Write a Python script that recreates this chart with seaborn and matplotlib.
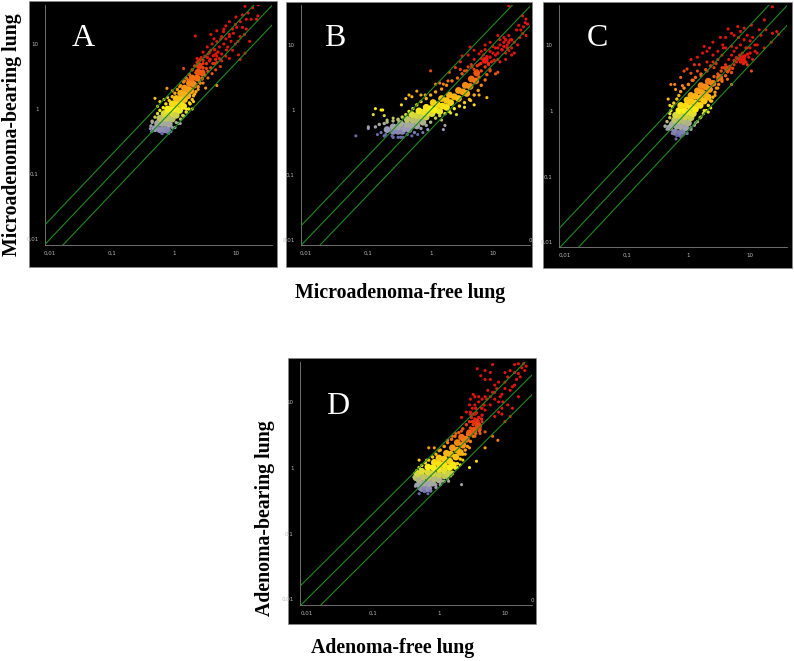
import pandas as pd
import seaborn as sns
import matplotlib.pyplot as plt
from matplotlib.colors import LinearSegmentedColormap, LogNorm
from matplotlib.patches import Rectangle
from matplotlib.ticker import FixedLocator, NullFormatter

W, H = 794, 661

# dense middle of each cloud
a_core = [(0.5,0.5),(0.6,0.48),(0.7,0.48),(0.8,0.47),(0.55,0.6),(0.65,0.6),(0.75,0.6),(0.85,0.58),(0.6,0.72),(0.7,0.72),
          (0.8,0.72),(0.95,0.7),(0.7,0.85),(0.8,0.88),(0.95,0.85),(1.1,0.8),(0.8,1.0),(0.95,1.02),(1.1,1.0),(1.25,0.95),
          (0.95,1.2),(1.1,1.2),(1.3,1.2),(1.45,1.1),(1.1,1.45),(1.3,1.45),(1.5,1.4),(1.3,1.75),(1.5,1.7),(1.7,1.6),
          (1.5,2.1),(1.75,2.0),(1.9,1.9),(1.8,2.5),(2.1,2.4),(2.0,3.0),(2.4,3.0),(2.5,3.7),(2.9,3.6),(2.6,4.6)]
b_core = [(0.2,0.5),(0.25,0.47),(0.3,0.47),(0.35,0.47),(0.25,0.55),(0.3,0.55),(0.38,0.52),(0.45,0.5),(0.33,0.62),(0.42,0.6),
          (0.5,0.58),(0.6,0.57),(0.42,0.72),(0.52,0.7),(0.62,0.68),(0.75,0.65),(0.5,0.85),(0.6,0.82),(0.72,0.8),(0.85,0.78),
          (0.65,0.97),(0.78,0.93),(0.92,0.9),(1.05,0.88),(0.85,1.1),(1.0,1.05),(1.2,1.0),(1.4,0.95),(1.1,1.3),(1.3,1.2),
          (1.55,1.15),(1.8,1.1),(1.5,1.5),(1.8,1.4),(2.1,1.3),(2.0,1.7),(2.4,1.6),(2.8,1.5),(2.8,2.0),(3.3,1.9),
          (3.8,1.8),(3.6,2.4),(4.3,2.3),(4.5,3.0),(5.3,2.8),(5.5,3.7),(7.5,5.8)]
c_core = [(0.5,0.55),(0.6,0.47),(0.7,0.45),(0.8,0.46),(0.55,0.62),(0.65,0.58),(0.75,0.57),(0.9,0.55),(0.6,0.72),(0.7,0.7),
          (0.85,0.68),(1.0,0.65),(0.62,0.85),(0.75,0.83),(0.9,0.8),(1.1,0.78),(0.7,1.0),(0.85,1.0),(1.0,0.95),(1.2,0.9),
          (0.75,1.2),(0.92,1.2),(1.1,1.12),(1.3,1.05),(0.95,1.45),(1.1,1.4),(1.3,1.3),(1.55,1.2),(1.1,1.7),(1.3,1.65),
          (1.55,1.55),(1.8,1.4),(1.4,2.0),(1.65,1.9),(1.9,1.75),(2.1,1.6),(1.6,2.4),(1.9,2.3),(2.2,2.1),(2.1,2.8),
          (2.5,2.6),(3.2,3.2),(4.3,4.3),(7.5,6.2)]
d_core = [(0.45,0.7),(0.5,0.55),(0.55,0.48),(0.62,0.47),(0.7,0.48),(0.5,0.65),(0.6,0.58),(0.7,0.57),(0.8,0.58),(0.48,0.8),
          (0.58,0.72),(0.7,0.7),(0.85,0.68),(1.0,0.65),(0.55,0.88),(0.68,0.85),(0.82,0.82),(1.0,0.78),(1.2,0.75),(0.68,1.02),
          (0.82,1.0),(1.0,0.95),(1.2,0.9),(1.4,0.8),(0.85,1.2),(1.0,1.15),(1.2,1.1),(1.45,1.0),(1.0,1.4),(1.2,1.35),
          (1.45,1.25),(1.65,1.1),(1.3,1.65),(1.5,1.6),(1.8,1.45),(1.6,2.0),(1.9,1.85),(2.1,1.7),(1.9,2.4),(2.3,2.2),
          (2.2,2.9),(2.6,2.7),(2.9,3.4),(3.4,3.7),(3.7,5.0),(4.0,4.3)]

# rim of each cloud and the thinning part above it
a_rim = [(0.44,0.45),(0.43,0.55),(0.45,0.65),(0.5,0.75),(0.55,0.85),(0.6,0.95),(0.68,1.05),(0.75,1.2),(0.85,1.35),(0.95,1.55),
         (1.05,1.75),(1.15,2),(1.3,2.3),(1.45,2.6),(1.6,3),(1.8,3.4),(2,4),(2.2,4.6),(2.4,5.2),(0.65,0.42),
         (0.9,0.45),(1.05,0.52),(1.2,0.6),(1.3,0.7),(1.45,0.78),(1.6,0.9),(1.75,1),(1.85,1.2),(2,1.4),(2.1,1.6),
         (2.3,1.85),(2.5,2.2),(2.7,2.5),(2.9,2.9),(3.2,3.3),(3.6,3.8),(4,4.3),(4.6,5),(2.6,4.5),(3,4.3),
         (3.4,5),(3.9,5.8),(3,5.6),(3.5,6.2),(2.7,5.8),(4.4,6.6),(4.8,5.8),(5.2,7.5),(4.6,8.2),(3.8,7.4),
         (2.3,3.6),(2.9,3),(2.6,2.7),(2.2,2.2)]
b_rim = [(0.13,0.55),(0.15,0.6),(0.18,0.62),(0.2,0.65),(0.25,0.68),(0.3,0.72),(0.35,0.78),(0.4,0.85),(0.45,0.95),(0.52,1.05),
         (0.6,1.2),(0.7,1.35),(0.85,1.5),(1,1.7),(1.2,1.9),(1.5,2.1),(1.8,2.4),(2.2,2.8),(2.7,3.1),(3.2,3.6),
         (3.8,4),(4.6,4.6),(0.18,0.4),(0.25,0.38),(0.33,0.38),(0.42,0.42),(0.55,0.45),(0.7,0.52),(0.85,0.58),(1,0.65),
         (1.2,0.75),(1.4,0.82),(1.7,0.88),(2,0.95),(2.4,1.05),(2.9,1.15),(3.5,1.3),(4.2,1.45),(5,1.7),(5.8,2),
         (6.5,2.4),(7.5,2.9),(8,3.5),(9,4),(6,3.2),(6.5,4),(7.5,4.6),(8.5,5),(5.6,4.8),(6.4,5.2),
         (7,6),(8,6.6),(9,6.5),(9.5,5.5),(10.5,5.8),(12,7.5),(14,8.5),(15,9.5),(17,9),(18,11),
         (16,12),(20,12)]
c_rim = [(0.42,0.58),(0.45,0.68),(0.5,0.78),(0.5,0.9),(0.52,1),(0.55,1.15),(0.58,1.3),(0.65,1.5),(0.7,1.7),(0.75,1.95),
         (0.85,2.2),(1,2.5),(1.15,2.9),(1.3,3.2),(1.6,3.6),(1.9,4.2),(2.3,4.8),(2.8,5.2),(0.55,0.45),(0.65,0.42),
         (0.8,0.42),(0.95,0.45),(1.1,0.52),(1.25,0.6),(1.4,0.68),(1.55,0.78),(1.75,0.9),(1.95,1),(2.1,1.2),(2.3,1.4),
         (2.5,1.6),(2.7,1.9),(2.85,2.2),(3.1,2.5),(3.5,2.8),(4,3.4),(5,3.8),(2.6,3.3),(3,3.6),(3.4,4),
         (3.8,4.5),(4.3,3.9),(4.7,4.7),(5.2,4.4),(5.5,5.8),(6,6.4),(6.8,7),(7,5.5),(7.8,5.2),(8.2,6.8),
         (9,7.2),(10,7.5),(8.5,5.5),(3,2.9),(2.3,2.6)]
d_rim = [(0.42,0.72),(0.43,0.82),(0.46,0.9),(0.5,1),(0.55,1.08),(0.62,1.18),(0.7,1.3),(0.8,1.45),(0.9,1.6),(1.05,1.85),
         (1.2,2.1),(1.35,2.4),(1.55,2.7),(1.75,3),(2,3.4),(2.3,3.9),(2.6,4.5),(2.9,5),(3.1,5.8),(0.45,0.55),
         (0.5,0.48),(0.6,0.44),(0.75,0.44),(0.9,0.5),(1.05,0.55),(1.2,0.62),(1.35,0.68),(1.5,0.75),(1.6,0.85),(1.75,0.98),
         (1.9,1.15),(2.1,1.35),(2.3,1.6),(2.5,1.85),(2.7,2.1),(3,2.5),(3.3,3),(3.6,3.3),(4.2,3.8),(3,4),
         (3.3,4.5),(3.7,4.2),(4.1,3.6),(3.2,5),(3.5,5.5),(4,5.8),(3.7,6.8),(3.3,6.5),(4.4,5.5),(4.5,6.3),
         (3,6.5),(3.6,8),(4.8,9),(2.7,3.2),(2.3,2.6)]

# single dots around the clouds
a_dots = [(2.24,13.3),(14.3,38),(23.5,40),(10.2,26),(22,24),(5,16),(6.4,15.5),(9.3,14.6),(11.9,13),(5,10.9),
          (7.2,8.1),(11.2,6.8),(11.9,5.8),(14.3,7.2),(5.7,4.5),(5,2.3),(2.4,6),(1.45,4.2),(0.5,1.46),(0.78,2.08),
          (2,1),(1.28,0.6),(0.83,0.42),(19,36),(16,30),(13,28),(8,22),(7,19),(10,20),(12,22),
          (6,13),(8,14),(9,17),(4.5,12),(5.5,9),(6.5,10),(7.5,9),(4,8),(4.8,7),(3.6,7),
          (3.2,6.5),(3,5),(3.8,5.5),(4.3,5),(5,5.2),(5.5,6),(6,7),(2.5,5.5),(2.8,6.2),(3.4,4.2),
          (4.2,3.5),(4.8,4),(3.6,3),(3,2.5),(3.3,2.1),(2.5,2),(2.2,1.7),(2.1,1.3),(1.8,1.25),(1.6,1),
          (0.55,1.1),(0.6,1.3),(0.7,1.4),(0.8,1.5),(0.95,1.9),(0.45,0.62),(0.42,0.5),(0.95,0.52),(1.1,0.62),(1.4,0.8),
          (23,27),(15,17),(17,11),(18,24),(8,6),(1.7,2.8),(1.5,2.7),(1.25,2.2),(3.5,9),(3,7.5),
          (4.2,10),(5.8,12),(7,12),(8.5,11),(10,10),(9,8),(7,6.5),(5,6.5),(6,5.5),(8,13),
          (10.5,18),(13,18),(14,14),(11,11),(15,24),(6.5,17),(4,14)]
b_dots = [(0.063,0.4),(0.1,0.52),(0.1,0.55),(0.13,1.05),(0.16,1.0),(0.12,0.85),(0.18,0.82),(0.17,1.0),(0.2,0.7),(0.14,0.42),
          (0.16,0.45),(0.19,0.42),(0.24,0.4),(0.3,0.38),(0.36,0.38),(0.25,0.75),(0.3,0.7),(0.34,1.2),(0.4,1.5),(0.45,1.7),
          (0.5,1.6),(0.6,1.95),(0.7,1.7),(0.82,1.7),(1,4),(1.2,2.5),(1.4,2.6),(1.6,2.5),(1.9,2.8),(0.5,0.4),
          (0.62,0.42),(0.75,0.45),(0.9,0.5),(1.5,0.7),(1.7,0.58),(1.6,0.5),(2.1,0.9),(2.6,0.85),(3.5,1.1),(5,1.2),
          (4.4,1.4),(6,1.7),(8,1.55),(2.5,4.5),(3,4.2),(3.5,4),(4,4.6),(4.5,5),(5,4.2),(5.6,4),
          (6,5),(6.5,6.2),(7,7),(8,6),(8.5,5.2),(9,4.2),(11,3.6),(12,3.8),(3.2,6.8),(4.3,9.3),
          (5,8.3),(6,7.3),(11,7),(12,9),(14,8.4),(16,7.5),(18,8.2),(20,7),(15,11),(17,10),
          (19,12),(13,12),(12,14),(20,9),(24,17),(27,13),(30,15),(33,22),(30,28),(34,25),
          (36,21),(18,40),(26,20),(34,14),(9,11),(22,7.5),(7.5,10),(10,9.5),(2,3.8),(3,5.5),
          (4,7),(5,6),(6.5,8),(7.5,8.5),(9,8),(10,7.5),(11,9),(13,10),(15,13),(12,6),
          (13,5.5),(16,6),(18,14),(22,11),(25,10),(28,17),(31,19)]
c_dots = [(23,38),(17,24),(10.5,20),(8,18),(6.3,19),(4.4,17.5),(5,15),(5.5,14),(6.5,13),(8,12),
          (10,11.5),(14,17),(18,17),(23,15),(29,14.5),(27,16),(22,11),(17,9),(15,14),(13,10),
          (3.3,13),(3.6,10),(3.7,9),(2.2,9),(2,8),(1.7,7.5),(1.4,6.5),(1.1,6),(1.25,5),(0.85,4),
          (0.95,4.3),(1.1,3.7),(1.4,4),(0.75,3.2),(0.6,2.5),(0.52,2.5),(0.62,2.1),(0.8,2.4),(1,2.5),(1.2,2.9),
          (1.6,3.4),(2,4),(2.6,4.5),(2.5,5.5),(3,6),(3.5,4.5),(4,5),(4.5,6),(5,7),(5.5,5),
          (6,5.5),(6.5,6),(7,6.5),(8,5.8),(9,5),(10.5,4),(9.5,6.5),(7.5,7.5),(4.3,3),(5,2.5),
          (3.5,3),(3,2.2),(2.7,1.7),(2.4,1.4),(2.3,1.1),(2.1,0.95),(0.47,1.5),(0.5,1.2),(0.42,0.58),(0.45,0.52),
          (0.63,0.37),(0.75,0.4),(1.1,0.55),(1.3,0.65),(1.6,0.8),(1.8,1),(12,8),(11,13),(9,9),(6,9),
          (2.5,7),(3,8),(3.5,7),(4,9),(5,9.5),(5.5,8),(7,10),(8.5,9),(10,9),(12,10),
          (13,7.5),(11,6),(1.5,5),(2,5.5),(2.5,11),(4,13),(7,16),(9,14),(1.8,9.5)]
d_dots = [(14,37),(16,38),(6.5,37),(5,30),(3.8,32),(4.3,25),(5,22),(6,22),(8,20),(10,28),
          (12,30),(14,28),(16,27),(18,33),(20,30),(19,38),(21,35),(10,16),(12,15),(14,18),
          (3,11),(2.9,9),(3.5,12),(4,12),(4.5,11),(5.3,11),(6,12),(7,11),(8.5,12),(9.3,10),
          (11,9),(13,8),(7,6),(8,7),(9,6.5),(10,5),(12,6),(2.6,7),(3.2,8),(3.5,6.5),
          (2.2,5.8),(5,7.5),(4.5,5),(5,3.5),(6.5,3),(7.8,2.6),(5,2),(3.7,1.25),(2.9,1),(2.2,0.55),
          (3.5,3),(4.2,3.3),(2.9,2),(2.5,1.6),(2.3,1.3),(2.1,1.1),(0.7,2),(0.5,1.3),(0.65,1.3),(0.85,2),
          (1,1.8),(1.2,2.1),(1.35,2.6),(1.6,3),(1.8,3.3),(2.2,3.6),(0.44,0.52),(0.5,0.4),(0.6,0.43),(0.68,0.4),
          (0.9,0.55),(1.1,0.62),(1.4,0.62),(1.6,0.8),(1.9,1),(4.4,8),(5.5,15),(7,14),(3,7),(3.5,9),
          (4,10),(4.5,8),(5,12),(6,9),(6.5,14),(7.5,16),(8,10),(9,13),(10,20),(11,24),
          (13,17),(15,22),(16,12),(17,24),(9,8),(7,18),(6,28),(3.3,13)]

x_ticks = [0.01, 0.1, 1, 10]
tick_labels = ["0,01", "0,1", "1", "10"]
minor_ticks = [m * 10.0 ** e for e in range(-3, 2) for m in range(2, 10)]
bands = [2, 1, 0.5]

panels = [
    {"name": "A", "core": a_core, "rim": a_rim, "dots": a_dots, "rect": (29, 1, 277, 267), "inner": (45, 5, 272, 245),
     "xlim": (0.0083, 39.1), "ylim": (0.0081, 39.8), "letter": (83, 38), "corner": None},
    {"name": "B", "core": b_core, "rim": b_rim, "dots": b_dots, "rect": (286, 2, 532, 267), "inner": (301, 5, 530, 245),
     "xlim": (0.0083, 39.4), "ylim": (0.0084, 41.2), "letter": (335, 38), "corner": (530, 241)},
    {"name": "C", "core": c_core, "rim": c_rim, "dots": c_dots, "rect": (543, 2, 792, 268), "inner": (559, 5, 787, 247),
     "xlim": (0.008, 39.6), "ylim": (0.0084, 40.5), "letter": (597, 38), "corner": None},
    {"name": "D", "core": d_core, "rim": d_rim, "dots": d_dots, "rect": (288, 358, 536, 624), "inner": (300, 362, 532, 605),
     "xlim": (0.00783, 25.7), "ylim": (0.0081, 40.5), "letter": (338, 407), "corner": (532, 600)},
]

# colour follows the y value: blue-grey at the floor, yellow near 1, red from about 6
cmap = LinearSegmentedColormap.from_list("level", [
    (0.00, "#6a6aa8"), (0.06, "#9a9ab8"), (0.13, "#a8ae98"), (0.20, "#c4cc50"), (0.30, "#fbf014"),
    (0.43, "#fbbf14"), (0.60, "#f58414"), (0.77, "#eb4a10"), (0.92, "#e1140f"), (1.00, "#e1140f")])
norm = LogNorm(0.42, 8)


def pixel_axes(fig, box):
    left, top, right, bottom = box
    return fig.add_axes([left / W, 1 - bottom / H, (right - left) / W, (bottom - top) / H])


def draw_cloud(ax, points, size):
    df = pd.DataFrame(points, columns=["x", "y"])
    sns.scatterplot(data=df, x="x", y="y", hue="y", palette=cmap, hue_norm=norm, s=size,
                    linewidth=0, legend=False, ax=ax, zorder=3)


def draw_panel(fig, panel):
    fig.add_artist(Rectangle((panel["rect"][0] / W, 1 - panel["rect"][3] / H),
                             (panel["rect"][2] - panel["rect"][0]) / W,
                             (panel["rect"][3] - panel["rect"][1]) / H,
                             transform=fig.transFigure, facecolor="black", edgecolor="#888888", linewidth=0.5,
                             zorder=-1))
    ax = pixel_axes(fig, panel["inner"])
    ax.set_facecolor("black")
    ax.set_xscale("log")
    ax.set_yscale("log")

    for k in bands:
        ax.plot([1e-3, 100], [k * 1e-3, k * 100], color="#1f8a1f", linewidth=0.8, zorder=4)

    draw_cloud(ax, panel["core"], 24)
    draw_cloud(ax, panel["rim"], 6)
    draw_cloud(ax, panel["dots"], 5)

    ax.set_xlim(panel["xlim"])
    ax.set_ylim(panel["ylim"])
    ax.set_xlabel("")
    ax.set_ylabel("")
    for axis in [ax.xaxis, ax.yaxis]:
        axis.set_major_locator(FixedLocator(x_ticks))
        axis.set_minor_locator(FixedLocator(minor_ticks))
        axis.set_minor_formatter(NullFormatter())
    ax.set_xticklabels(tick_labels)
    ax.set_yticklabels(tick_labels)
    ax.tick_params(which="major", colors="#bbbbbb", labelsize=4, length=3, width=0.5, pad=1.5)
    ax.tick_params(which="minor", colors="#999999", length=1.5, width=0.4)
    sns.despine(ax=ax)
    for side in ["left", "bottom"]:
        ax.spines[side].set_color("#999999")
        ax.spines[side].set_linewidth(0.5)

    fig.text(panel["letter"][0] / W, 1 - panel["letter"][1] / H, panel["name"], color="white", fontsize=23,
             family="Liberation Serif", ha="center", va="center")
    if panel["corner"]:
        fig.text(panel["corner"][0] / W, 1 - panel["corner"][1] / H, "0", color="#bbbbbb", fontsize=4,
                 ha="center", va="center")


sns.set_style("white")
fig = plt.figure(figsize=(W / 100, H / 100), dpi=100, facecolor="white")

for panel in panels:
    draw_panel(fig, panel)

label_style = dict(family="Liberation Serif", fontweight="bold", fontsize=14.3, color="black", ha="center", va="center")
fig.text(12 / W, 1 - 135 / H, "Microadenoma-bearing lung", rotation=90, **label_style)
fig.text(400 / W, 1 - 293 / H, "Microadenoma-free lung", **label_style)
fig.text(265 / W, 1 - 518 / H, "Adenoma-bearing lung", rotation=90, **label_style)
fig.text(393 / W, 1 - 648 / H, "Adenoma-free lung", **label_style)

fig.savefig("out.png", dpi=100)
